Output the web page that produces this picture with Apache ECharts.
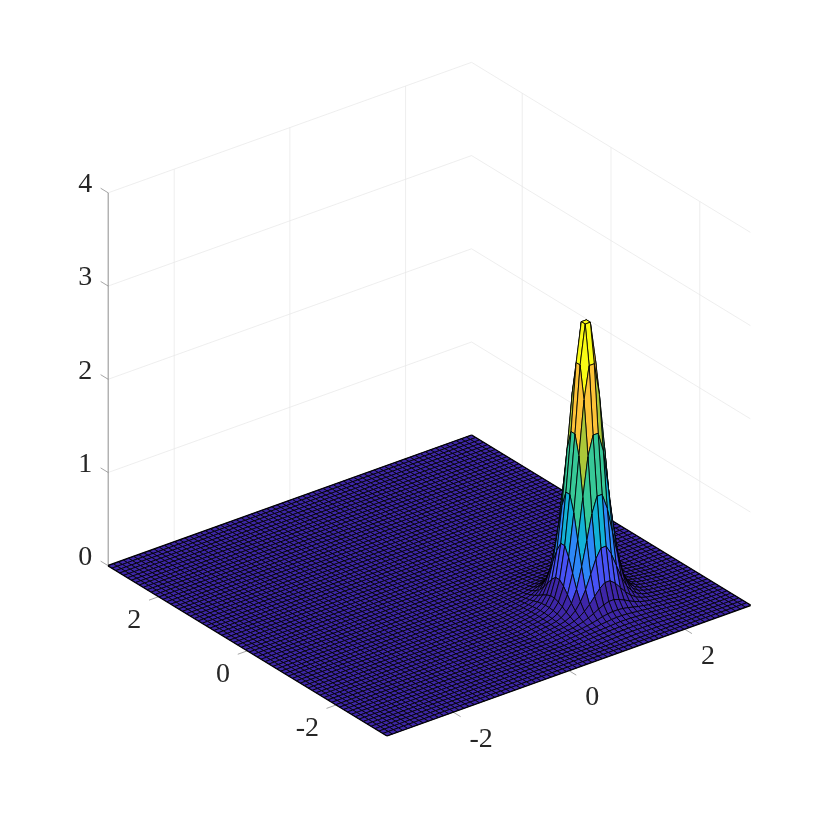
<!DOCTYPE html>
<html>
<head>
<meta charset="utf-8">
<style>html,body{margin:0;padding:0;background:#fff}#c{width:830px;height:827px}</style>
<script src="https://cdn.jsdelivr.net/npm/echarts@6/dist/echarts.min.js"></script>
</head>
<body>
<div id="c"></div>
<script>
const xTicks = [-2, 0, 2];
const yTicks = [-2, 0, 2];
const zTicks = [0, 1, 2, 3, 4];
const gridCount = 72;
const peakCellX = 51;
const peakCellY = 16;
const colorTop = 3;
// one quadrant of the peak heights, outward from the top cell
const peakQuadrant = [
  [3.0,2.58,1.86,1.23,.7,.355,.178,.095,.058,.039,.027,.02,.013,.007],
  [2.58,2.23,1.65,1.06,.6,.31,.16,.089,.055,.037,.026,.019,.013,.006],
  [1.86,1.65,1.23,.79,.455,.245,.135,.079,.049,.033,.025,.018,.012,.005],
  [1.23,1.06,.79,.53,.31,.178,.105,.064,.043,.03,.023,.016,.01,.004],
  [.7,.6,.455,.31,.2,.124,.079,.051,.036,.027,.02,.014,.008,.002],
  [.355,.31,.245,.178,.124,.084,.058,.041,.03,.024,.018,.012,.006,0],
  [.178,.16,.135,.105,.079,.058,.043,.031,.025,.02,.014,.009,.003,0],
  [.095,.089,.079,.064,.051,.041,.031,.026,.021,.016,.011,.005,0,0],
  [.058,.055,.049,.043,.036,.03,.025,.021,.016,.012,.007,.001,0,0],
  [.039,.037,.033,.03,.027,.024,.02,.016,.012,.007,.002,0,0,0],
  [.027,.026,.025,.023,.02,.018,.014,.011,.007,.002,0,0,0,0],
  [.02,.019,.018,.016,.014,.012,.009,.005,.001,0,0,0,0,0],
  [.013,.013,.012,.01,.008,.006,.003,0,0,0,0,0,0,0],
  [.007,.006,.005,.004,.002,0,0,0,0,0,0,0,0,0]
];
const colormap = ['#3e26a8','#4752f4','#2d87f7','#12b1d6','#37c897','#abc739','#fdc338','#f9fb15'];

const LIM = Math.PI, ZMAX = 4, TICK = 0.17;
const AZ = 37.5 * Math.PI / 180, EL = 27.9 * Math.PI / 180, ZS = 1.447;
const SCALE = 72.9, CX = 429.3, CY = 585.5, W = 830, H = 827;

function project(x, y, z) {
  return [
    x * Math.cos(AZ) - y * Math.sin(AZ),
    (x * Math.sin(AZ) + y * Math.cos(AZ)) * Math.sin(EL) + z * ZS * Math.cos(EL)
  ];
}
const nodes = [];
for (let i = 0; i < gridCount; i++) nodes.push(-LIM + 2 * LIM * i / (gridCount - 1));
function height(i, j) {
  const a = i > peakCellX ? i - peakCellX - 1 : peakCellX - i;
  const b = j > peakCellY ? j - peakCellY - 1 : peakCellY - j;
  return a < peakQuadrant.length && b < peakQuadrant.length ? peakQuadrant[b][a] : 0;
}

// painter's order: back corner first
const cells = [];
for (let i = gridCount - 2; i >= 0; i--)
  for (let j = gridCount - 2; j >= 0; j--) cells.push([i, j]);

const segs = [];
const light = 0, axisLine = 1, tickLine = 2, rim = 3;
zTicks.forEach(z => {
  segs.push([-LIM, LIM, z, LIM, LIM, z, light]);
  segs.push([LIM, LIM, z, LIM, -LIM, z, light]);
});
xTicks.forEach(x => segs.push([x, LIM, 0, x, LIM, ZMAX, light]));
yTicks.forEach(y => segs.push([LIM, y, 0, LIM, y, ZMAX, light]));
segs.push([-LIM, LIM, 0, -LIM, LIM, ZMAX, axisLine]);
zTicks.forEach(z => segs.push([-LIM, LIM, z, -LIM, LIM + TICK, z, tickLine]));
xTicks.forEach(x => segs.push([x, -LIM, 0, x, -LIM - TICK, 0, tickLine]));
yTicks.forEach(y => segs.push([-LIM, y, 0, -LIM - TICK, y, 0, tickLine]));
segs.push([-LIM, -LIM, 0, LIM, -LIM, 0, rim]);
segs.push([LIM, -LIM, 0, LIM, LIM, 0, rim]);
segs.push([LIM, LIM, 0, -LIM, LIM, 0, rim]);
segs.push([-LIM, LIM, 0, -LIM, -LIM, 0, rim]);

const labels = [];
zTicks.forEach(z => labels.push([-LIM, LIM, z, String(z), -23, -8]));
xTicks.forEach(x => labels.push([x, -LIM, 0, String(x), x < 0 ? 28 : 23.5, 27.5]));
yTicks.forEach(y => labels.push([-LIM, y, 0, String(y), y < 0 ? -29 : -24.5, 24]));

const segStyle = [
  {stroke:'#e6e6e6', lineWidth:0.7},
  {stroke:'#707070', lineWidth:0.8},
  {stroke:'#808080', lineWidth:0.7},
  {stroke:'#000', lineWidth:1.8}
];

const chart = echarts.init(document.getElementById('c'), null, {renderer:'canvas'});
chart.setOption({
  animation:false,
  backgroundColor:'#fff',
  grid:{left:0,right:0,top:0,bottom:0},
  xAxis:{type:'value',show:false,min:-CX/SCALE,max:(W-CX)/SCALE},
  yAxis:{type:'value',show:false,min:-(H-CY)/SCALE,max:CY/SCALE},
  series:[
    {
      type:'custom',coordinateSystem:'cartesian2d',silent:true,clip:false,progressive:0,z:1,
      data:segs,
      renderItem:(p,api)=>{
        const d=segs[p.dataIndex];
        const a=api.coord(project(d[0],d[1],d[2])), b=api.coord(project(d[3],d[4],d[5]));
        return {type:'line',shape:{x1:a[0],y1:a[1],x2:b[0],y2:b[1]},style:segStyle[d[6]]};
      }
    },
    {
      type:'custom',coordinateSystem:'cartesian2d',silent:true,clip:false,progressive:0,z:2,
      data:cells,
      renderItem:(p,api)=>{
        const [i,j]=cells[p.dataIndex];
        const corners=[[i,j],[i+1,j],[i+1,j+1],[i,j+1]];
        const pts=corners.map(c=>api.coord(project(nodes[c[0]],nodes[c[1]],height(c[0],c[1]))));
        const lvl=Math.min(7,Math.floor(height(i+1,j+1)/colorTop*8));
        return {type:'polygon',shape:{points:pts},style:{fill:colormap[lvl],stroke:'#000',lineWidth:0.85,lineJoin:'round'}};
      }
    },
    {
      type:'custom',coordinateSystem:'cartesian2d',silent:true,clip:false,progressive:0,z:3,
      data:labels,
      renderItem:(p,api)=>{
        const d=labels[p.dataIndex];
        const a=api.coord(project(d[0],d[1],d[2]));
        return {type:'text',style:{x:a[0]+d[4],y:a[1]+d[5],text:d[3],fill:'#262626',
          font:'28px "Liberation Serif"',align:'center',verticalAlign:'middle'}};
      }
    }
  ]
});
</script>
</body>
</html>
